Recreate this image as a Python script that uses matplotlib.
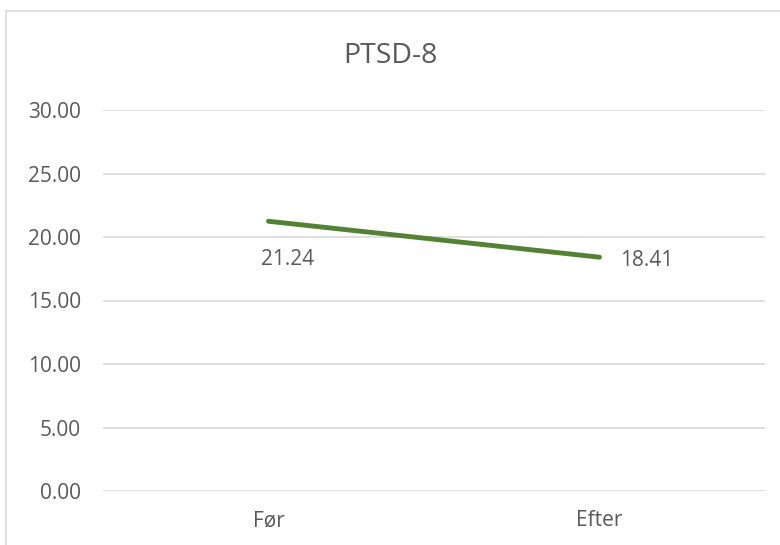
import matplotlib.pyplot as plt
from matplotlib.patches import Rectangle

plt.rcParams['font.family'] = ['Open Sans', 'DejaVu Sans']

# 数据
categories = ['Før', 'Efter']
values = [21.24, 18.41]
y_ticks = [0, 5, 10, 15, 20, 25, 30]

text_color = '#595959'
grid_color = '#D9D9D9'
line_color = '#548235'

fig = plt.figure(figsize=(7.8, 5.45), dpi=100)
# 图表边框
fig.patches.append(Rectangle((6 / 780, -0.1), 2, 1 - 11 / 545 + 0.1,
                             transform=fig.transFigure, fill=False,
                             edgecolor=grid_color, linewidth=1.2))

ax = fig.add_axes([103 / 780, 1 - 491 / 545, 662 / 780, 381 / 545])
x = list(range(len(categories)))
ax.plot(x, values, color=line_color, linewidth=3.5, solid_capstyle='round', zorder=3)

ax.set_xlim(-0.5, len(categories) - 0.5)
ax.set_ylim(0, 30)
ax.set_yticks(y_ticks)
ax.set_yticklabels(['%.2f' % v for v in y_ticks])
ax.set_xticks(x)
ax.set_xticklabels(categories)
ax.yaxis.grid(True, color=grid_color, linewidth=1.2)
ax.set_axisbelow(True)
for s in ax.spines.values():
    s.set_visible(False)
ax.tick_params(length=0, labelsize=15, labelcolor=text_color)
ax.tick_params(axis='y', pad=16)
ax.tick_params(axis='x', pad=14)

# 数据标签
ax.annotate('%.2f' % values[0], (x[0], values[0]), textcoords='offset pixels',
            xytext=(-7, -38), ha='left', va='center', fontsize=15, color=text_color)
ax.annotate('%.2f' % values[1], (x[1], values[1]), textcoords='offset pixels',
            xytext=(21, -3), ha='left', va='center', fontsize=15, color=text_color)

fig.text(0.5, 1 - 56 / 545, 'PTSD-8', ha='center', va='center',
         fontsize=20.5, color=text_color)

fig.savefig('out.png', dpi=100)
